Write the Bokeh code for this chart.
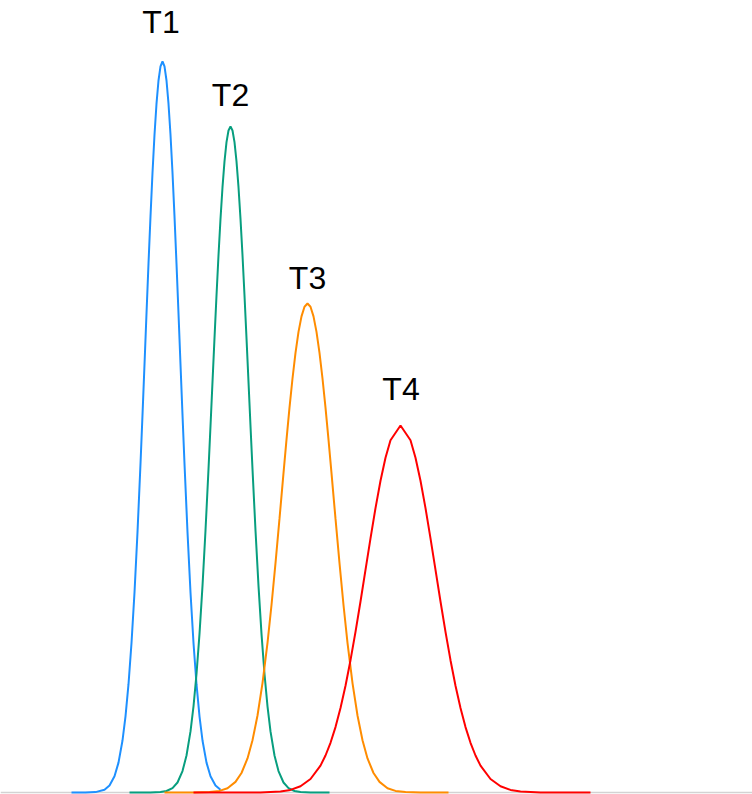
from bokeh.plotting import figure
from bokeh.models import Range1d, Span, ColumnDataSource
from bokeh.core.properties import value
from bokeh.embed import file_html
from bokeh.resources import INLINE

# ---- data ----
t1_x = [71, 85, 95, 104, 109, 114, 118, 122, 125, 128, 131, 134, 137, 140, 142, 144, 146, 148,
        150, 152, 154, 156, 158, 160, 162, 164, 166, 168, 170, 172, 174, 176, 178, 180, 182,
        184, 187, 190, 193, 196, 199, 202, 206, 210, 215, 220]
t1_y = [0, 0, 0.4, 2.8, 7.1, 16.3, 29.9, 52, 76.2, 108.3, 149.5, 200, 260.4, 328.7, 377.6, 428,
        479, 528.9, 576.1, 619.7, 657.7, 688.8, 712, 726.2, 731, 726.2, 712, 688.8, 657.7, 619.7,
        576.1, 528.9, 479, 428, 377.6, 328.7, 260.4, 200, 149.5, 108.3, 76.2, 52, 29.9, 16.3,
        7.1, 2.8]

t2_x = [129, 150, 160, 166, 172, 177, 182, 186, 190, 193, 196, 199, 202, 205, 208, 210, 212,
        214, 216, 218, 220, 222, 224, 226, 228, 230, 232, 234, 236, 238, 240, 242, 244, 246,
        248, 250, 252, 255, 258, 261, 264, 267, 270, 274, 278, 283, 288, 294, 300, 310, 329]
t2_y = [0, 0.05, 0.4, 1.5, 4.4, 10, 21.4, 37, 61.1, 86.2, 118.5, 158.6, 206.6, 262, 323.4, 366.5,
        410.6, 454.4, 497, 537.2, 573.6, 605.3, 631.2, 650.3, 662, 666, 662, 650.3, 631.2, 605.3,
        573.6, 537.2, 497, 454.4, 410.6, 366.5, 323.4, 262, 206.6, 158.6, 118.5, 86.2, 61.1, 37,
        21.4, 10, 4.4, 1.5, 0.4, 0.05, 0]

t3_x = [164, 194, 209, 219, 227, 235, 241, 247, 252, 257, 262, 267, 271, 275, 279, 283, 286,
        289, 292, 295, 298, 301, 304, 307, 310, 313, 316, 319, 322, 325, 328, 331, 335, 339,
        343, 347, 352, 357, 362, 367, 373, 379, 387, 395, 405, 420, 448]
t3_y = [0, 0, 0.4, 1.6, 4.3, 10.6, 19.5, 34.1, 52.2, 77, 109.4, 149.7, 187.5, 229.3, 273.8, 319.4,
        352.9, 384.8, 414, 439.6, 460.6, 476.1, 485.8, 489, 485.8, 476.1, 460.6, 439.6, 414,
        384.8, 352.9, 319.4, 273.8, 229.3, 187.5, 149.7, 109.4, 77, 52.2, 34.1, 19.5, 10.6, 4.3,
        1.6, 0.4, 0, 0]

t4_x = [193, 240, 260, 280, 290, 300, 310, 320, 325, 330, 335, 340, 345, 350, 355, 360, 365,
        370, 375, 380, 385, 390, 400, 410, 415, 420, 425, 430, 435, 440, 445, 450, 455, 460,
        465, 470, 475, 480, 490, 500, 510, 520, 540, 560, 590]
t4_y = [0, 0, 0.1, 1, 2.6, 6.2, 13.5, 26.9, 37, 49.7, 65.4, 84.5, 106.8, 132.3, 160.6, 191, 222.6,
        254.2, 284.4, 311.7, 334.8, 352.3, 367, 352.3, 334.8, 311.7, 284.4, 254.2, 222.6, 191,
        160.6, 132.3, 106.8, 84.5, 65.4, 49.7, 37, 26.9, 13.5, 6.2, 2.6, 1, 0.1, 0, 0]

series_names = ["T1", "T2", "T3", "T4"]
series_colors = ["#1E90FF", "#089E7F", "#FF8C00", "#FF0000"]
label_x = [160.5, 230, 307, 400.5]
label_y = [770.5, 698, 514.5, 404]

# ---- figure ----
p = figure(width=752, height=794, output_backend="svg", toolbar_location=None,
           x_range=Range1d(0, 752), y_range=Range1d(-2, 792),
           min_border=0, min_border_left=0, min_border_right=0,
           min_border_top=0, min_border_bottom=0)
p.axis.visible = False
p.grid.visible = False
p.outline_line_color = None
p.background_fill_color = "white"
p.border_fill_color = "white"

p.add_layout(Span(location=0, dimension="width", line_color="#D3D3D3",
                  line_width=1.5, level="underlay"))

for xs, ys, c in zip([t1_x, t2_x, t3_x, t4_x], [t1_y, t2_y, t3_y, t4_y], series_colors):
    p.line(xs, ys, line_color=c, line_width=2)

src = ColumnDataSource(dict(x=label_x, y=label_y, t=series_names))
p.text(x="x", y="y", text="t", source=src, text_align="center",
       text_baseline="alphabetic", text_font=value("Liberation Sans"),
       text_font_size="32px", text_color="#000000")

open("out.html", "w").write(file_html(p, INLINE))
